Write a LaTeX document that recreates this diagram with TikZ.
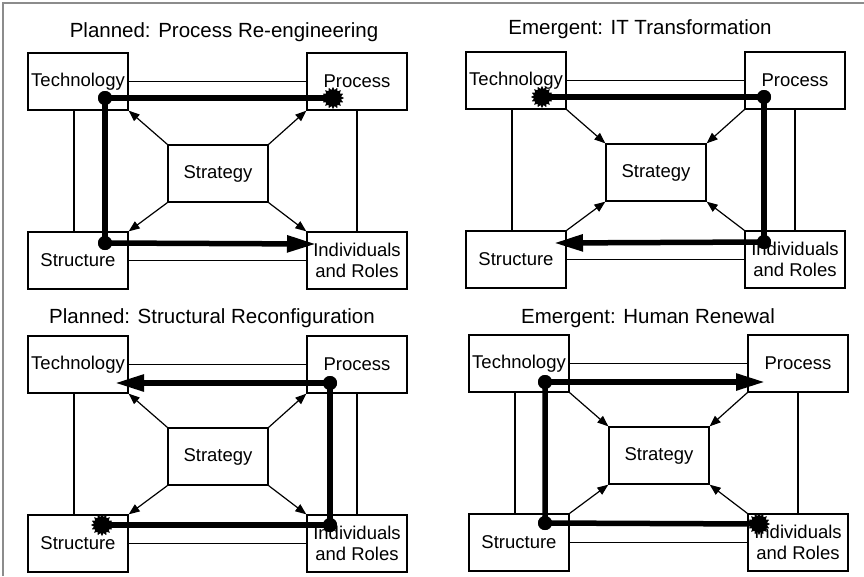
\documentclass[tikz,border=0pt]{standalone}
\usepackage{fontspec}
\setmainfont{Liberation Sans}
\usetikzlibrary{arrows.meta,shapes.geometric}

\tikzset{
  x=1pt, y=-1pt,
  box/.style={draw, line width=1.3pt, minimum width=100pt, minimum height=57pt,
    inner sep=0pt, font=\fontsize{18.5}{21}\selectfont, align=center},
  link/.style={line width=1.2pt},
  spoke/.style={line width=1.2pt, -{Triangle[length=11pt,width=8.5pt]}},
  heavy/.style={line width=5.5pt},
  bigarrow/.style={line width=5.5pt, -{Triangle[length=29pt,width=16pt]}},
  dot/.style={circle, fill, inner sep=0pt, minimum size=14pt},
  burst/.style={star, star points=16, star point ratio=1.35, fill,
    inner sep=0pt, minimum size=22pt},
  paneltitle/.style={font=\fontsize{20.5}{24}\selectfont},
  frameline/.style={draw=black!45, line width=2.5pt}
}

% the five boxes of one framework and the thin links between neighbours
\newcommand{\frameworkboxes}[1]{%
  \node[box] (tech#1) at (50,28.5) {Technology};
  \node[box] (proc#1) at (329,28.5) {Process};
  \node[box] (strat#1) at (190,120.5) {Strategy};
  \node[box] (struct#1) at (50,207.5) {Structure};
  \node[box] (ind#1) at (329,207.5) {Individuals\\and Roles};
  \draw[link] (tech#1.east) -- (proc#1.west);
  \draw[link] ([xshift=-4pt]tech#1.south) -- ([xshift=-4pt]struct#1.north);
  \draw[link] (proc#1.south) -- (ind#1.north);
  \draw[link] (struct#1.east) -- (ind#1.west);
}
% strategy drives the other four
\newcommand{\spokesout}[1]{%
  \draw[spoke] (strat#1.north west) -- (tech#1.south east);
  \draw[spoke] (strat#1.north east) -- (proc#1.south west);
  \draw[spoke] (strat#1.south west) -- (struct#1.north east);
  \draw[spoke] (strat#1.south east) -- (ind#1.north west);
}
% the other four feed back into strategy
\newcommand{\spokesin}[1]{%
  \draw[spoke] (tech#1.south east) -- (strat#1.north west);
  \draw[spoke] (proc#1.south west) -- (strat#1.north east);
  \draw[spoke] (struct#1.north east) -- (strat#1.south west);
  \draw[spoke] (ind#1.north west) -- (strat#1.south east);
}

\begin{document}
\begin{tikzpicture}
\useasboundingbox (0,0) rectangle (864,576);
\fill[white] (0,0) rectangle (864,576);
\draw[frameline] (3,576) -- (3,3) -- (864,3);

% ---------- Planned: Process Re-engineering ----------
\node[paneltitle] (title1) at (224,32) {Planned: Process Re-engineering};
\begin{scope}[shift={(28,53)}]
  \frameworkboxes{1}
  \spokesout{1}
  \node[dot] (d1a) at (77,45) {};
  \node[dot] (d1b) at (77,190) {};
  \node[burst] (b1) at (305,45) {};
  \coordinate (e1) at (288,191);
  \draw[heavy] (b1.center) -- (d1a.center) -- (d1b.center);
  \draw[bigarrow] (d1b.center) -- (e1);
  \node[dot] at (d1a) {};
  \node[dot] at (d1b) {};
\end{scope}

% ---------- Emergent: IT Transformation ----------
\node[paneltitle] (title2) at (640,29) {Emergent: IT Transformation};
\begin{scope}[shift={(466,52)}]
  \frameworkboxes{2}
  \spokesin{2}
  \node[dot] (d2a) at (298,45) {};
  \node[dot] (d2b) at (298,190) {};
  \node[burst] (b2) at (76,45) {};
  \coordinate (e2) at (88,191);
  \draw[heavy] (b2.center) -- (d2a.center) -- (d2b.center);
  \draw[bigarrow] (d2b.center) -- (e2);
  \node[dot] at (d2a) {};
  \node[dot] at (d2b) {};
\end{scope}

% ---------- Planned: Structural Reconfiguration ----------
\node[paneltitle] (title3) at (212,318) {Planned: Structural Reconfiguration};
\begin{scope}[shift={(28,336)}]
  \frameworkboxes{3}
  \spokesout{3}
  \node[dot] (d3a) at (302,47) {};
  \node[dot] (d3b) at (302,189) {};
  \node[burst] (b3) at (74,189) {};
  \coordinate (e3) at (87,47);
  \draw[heavy] (b3.center) -- (d3b.center) -- (d3a.center);
  \draw[bigarrow] (d3a.center) -- (e3);
  \node[dot] at (d3a) {};
  \node[dot] at (d3b) {};
\end{scope}

% ---------- Emergent: Human Renewal ----------
\node[paneltitle] (title4) at (648,318) {Emergent: Human Renewal};
\begin{scope}[shift={(469,335)}]
  \frameworkboxes{4}
  \spokesin{4}
  \node[dot] (d4a) at (76,47) {};
  \node[dot] (d4b) at (76,188) {};
  \node[burst] (b4) at (290,189) {};
  \coordinate (e4) at (296,47);
  \draw[heavy] (b4.center) -- (d4b.center) -- (d4a.center);
  \draw[bigarrow] (d4a.center) -- (e4);
  \node[dot] at (d4a) {};
  \node[dot] at (d4b) {};
\end{scope}
\end{tikzpicture}
\end{document}
